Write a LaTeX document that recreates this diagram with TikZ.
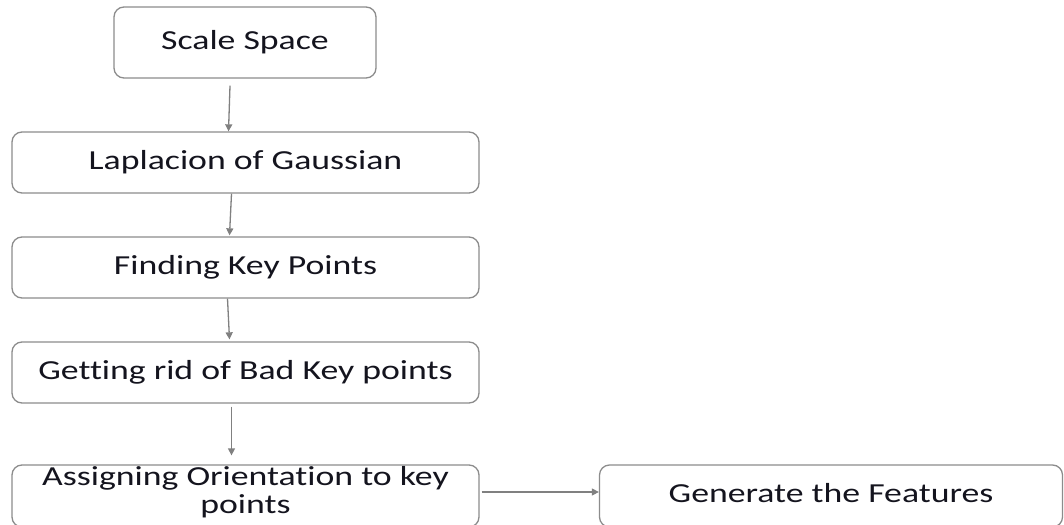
\documentclass[tikz,border=0pt]{standalone}
\usepackage{fontspec}
\setmainfont{Carlito}[FakeStretch=1.3, Ligatures=NoCommon]
\usetikzlibrary{arrows.meta}
\definecolor{boxgray}{HTML}{8C8C8C}
\definecolor{arrgray}{HTML}{808080}
\definecolor{txt}{HTML}{14141E}
\begin{document}
\begin{tikzpicture}[x=1pt,y=-1pt,
  stepbox/.style={draw=boxgray, line width=1.3pt, rounded corners=10pt, fill=white,
    text=txt, font=\fontsize{27.5}{28}\selectfont, align=center, inner sep=0pt},
  flow/.style={draw=arrgray, line width=1.3pt, -{Triangle[length=7pt,width=7pt]}}]
\useasboundingbox[fill=white] (0,0) rectangle (1064,524);
\node[stepbox, minimum width=262pt, minimum height=71pt] (ss) at (245,42.5) {Scale Space};
\node[stepbox, minimum width=467pt, minimum height=61pt] (lg) at (245.5,162.5) {Laplacion of Gaussian};
\node[stepbox, minimum width=467pt, minimum height=61pt] (fk) at (245.5,267.5) {Finding Key Points};
\node[stepbox, minimum width=467pt, minimum height=61pt] (gr) at (245.5,372.5) {Getting rid of Bad Key points};
\node[stepbox, minimum width=467pt, minimum height=62pt] (ao) at (245.5,496) {};
\node[text=txt, font=\fontsize{27.5}{28}\selectfont, align=center, inner sep=0pt] (aot) at (245.5,492.5) {Assigning Orientation to key\\points};
\node[stepbox, minimum width=463pt, minimum height=62pt] (gf) at (831,496) {};
\node[text=txt, font=\fontsize{27.5}{28}\selectfont, inner sep=0pt] (gft) at (831,493) {Generate the Features};
\draw[flow] ([xshift=-15pt,yshift=-7pt]ss.south) -- ([xshift=-17pt]lg.north);
\draw[flow] ([xshift=-14pt]lg.south) -- ([xshift=-16pt,yshift=1pt]fk.north);
\draw[flow] ([xshift=-18pt]fk.south) -- ([xshift=-16pt,yshift=2pt]gr.north);
\draw[flow] ([xshift=-14pt,yshift=-3pt]gr.south) -- ([xshift=-14pt,yshift=9pt]ao.north);
\draw[flow] ([xshift=2pt,yshift=4pt]ao.east) -- ([yshift=4pt]gf.west);
\end{tikzpicture}
\end{document}
